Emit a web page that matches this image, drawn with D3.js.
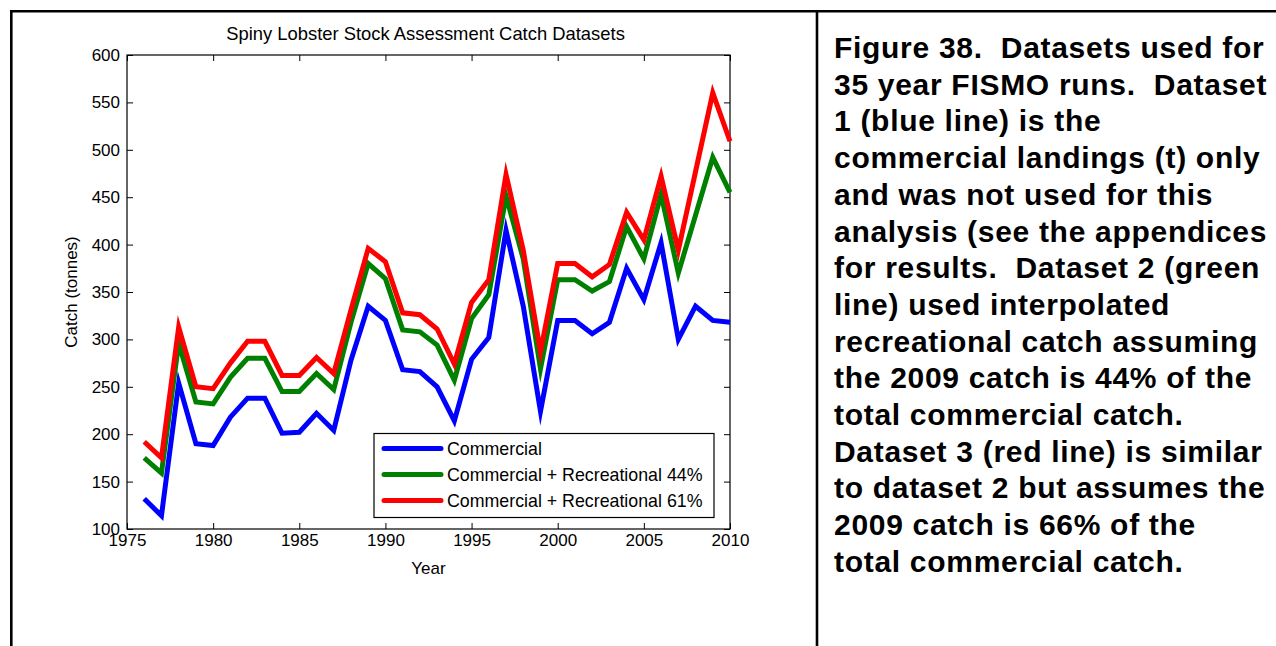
<!DOCTYPE html>
<html>
<head>
<meta charset="utf-8">
<script src="https://cdn.jsdelivr.net/npm/d3@7"></script>
<style>
  html, body { margin: 0; padding: 0; background: #fff; }
  svg { display: block; font-family: "Liberation Sans", Arial, sans-serif; }
  text { white-space: pre; }
</style>
</head>
<body>
<svg id="fig" width="1276" height="646"></svg>
<script>
// Catch series (tonnes), 1976-2010
const years = d3.range(1976, 2011);
const commercial = [132, 114, 254, 190, 188, 218, 238, 238, 201, 202, 222, 204, 278, 335, 320, 268, 266, 250, 214, 279, 302, 415, 335, 224, 320, 320, 306, 318, 375, 342, 402, 300, 335, 320, 318];
const recreational44 = [175, 159, 296, 234, 232, 260, 280, 280, 245, 245, 264, 247, 318, 380, 364, 310, 308, 294, 257, 322, 347, 451, 385, 269, 363, 363, 351, 361, 419, 385, 453, 370, 431, 492, 455];
const recreational61 = [192, 175, 313, 250, 248, 275, 298, 298, 262, 262, 281, 264, 331, 396, 382, 328, 326, 311, 274, 339, 363, 474, 394, 287, 380, 380, 366, 379, 434, 405, 472, 394, 477, 560, 509];

const seriesNames = ["Commercial", "Commercial + Recreational 44%", "Commercial + Recreational 61%"];
const seriesColors = ["#0000ff", "#008000", "#ff0000"];
const xTicks = [1975, 1980, 1985, 1990, 1995, 2000, 2005, 2010];
const yTicks = [100, 150, 200, 250, 300, 350, 400, 450, 500, 550, 600];

const captionLines = [
  "Figure 38.  Datasets used for",
  "35 year FISMO runs.  Dataset",
  "1 (blue line) is the",
  "commercial landings (t) only",
  "and was not used for this",
  "analysis (see the appendices",
  "for results.  Dataset 2 (green",
  "line) used interpolated",
  "recreational catch assuming",
  "the 2009 catch is 44% of the",
  "total commercial catch.",
  "Dataset 3 (red line) is similar",
  "to dataset 2 but assumes the",
  "2009 catch is 66% of the",
  "total commercial catch."
];

const svg = d3.select("#fig");

// page frame: top rule, left rule and the column divider
const frame = svg.append("g").attr("stroke", "#000").attr("stroke-width", 2.6);
frame.append("line").attr("x1", 10).attr("x2", 1276).attr("y1", 11.3).attr("y2", 11.3);
frame.append("line").attr("x1", 11.3).attr("x2", 11.3).attr("y1", 10).attr("y2", 646);
frame.append("line").attr("x1", 817).attr("x2", 817).attr("y1", 10).attr("y2", 646);

// plot area
const L = 127, R = 730, T = 55, B = 529;
const x = d3.scaleLinear().domain([1975, 2010]).range([L, R]);
const y = d3.scaleLinear().domain([100, 600]).range([B, T]);

const fs = 17;
const axisG = svg.append("g");

const axBottom = axisG.append("g").attr("transform", `translate(0,${B})`)
  .call(d3.axisBottom(x).tickValues(xTicks).tickFormat(d3.format("d")).tickSizeInner(-6).tickSizeOuter(0).tickPadding(5));
const axLeft = axisG.append("g").attr("transform", `translate(${L},0)`)
  .call(d3.axisLeft(y).tickValues(yTicks).tickSizeInner(-6).tickSizeOuter(0).tickPadding(7));
const axTop = axisG.append("g").attr("transform", `translate(0,${T})`)
  .call(d3.axisTop(x).tickValues(xTicks).tickFormat("").tickSizeInner(-6).tickSizeOuter(0));
const axRight = axisG.append("g").attr("transform", `translate(${R},0)`)
  .call(d3.axisRight(y).tickValues(yTicks).tickFormat("").tickSizeInner(-6).tickSizeOuter(0));

[axBottom, axLeft, axTop, axRight].forEach(g => {
  g.select(".domain").remove();
  g.selectAll(".tick line").attr("stroke", "#000").attr("stroke-width", 1);
  g.selectAll(".tick text").attr("font-size", fs).attr("font-family", "Liberation Sans, Arial, sans-serif").attr("fill", "#000");
});

// box round the axes
svg.append("rect").attr("x", L).attr("y", T).attr("width", R - L).attr("height", B - T)
  .attr("fill", "none").attr("stroke", "#000").attr("stroke-width", 1.2);

// lines
const line = d3.line().x((d, i) => x(years[i])).y(d => y(d));
const allSeries = [commercial, recreational44, recreational61];
svg.append("g").selectAll("path").data(allSeries).join("path")
  .attr("d", line)
  .attr("fill", "none")
  .attr("stroke", (d, i) => seriesColors[i])
  .attr("stroke-width", 5)
  .attr("stroke-linejoin", "miter")
  .attr("stroke-miterlimit", 10);

// titles
svg.append("text").attr("x", (L + R) / 2 - 3).attr("y", 40).attr("text-anchor", "middle")
  .attr("font-size", 18.4).text("Spiny Lobster Stock Assessment Catch Datasets");
svg.append("text").attr("x", (L + R) / 2).attr("y", 574).attr("text-anchor", "middle")
  .attr("font-size", fs).text("Year");
svg.append("text").attr("transform", `translate(77,${(T + B) / 2}) rotate(-90)`).attr("text-anchor", "middle")
  .attr("font-size", fs).text("Catch (tonnes)");

// legend
const lg = svg.append("g");
lg.append("rect").attr("x", 374).attr("y", 433.5).attr("width", 340).attr("height", 84)
  .attr("fill", "#fff").attr("stroke", "#000").attr("stroke-width", 1.2);
const rowsY = [448.5, 474.5, 500.5];
seriesNames.forEach((name, i) => {
  lg.append("line").attr("x1", 384).attr("x2", 441).attr("y1", rowsY[i]).attr("y2", rowsY[i])
    .attr("stroke", seriesColors[i]).attr("stroke-width", 5).attr("stroke-linecap", "round");
  lg.append("text").attr("x", 447).attr("y", rowsY[i]).attr("dy", "0.36em")
    .attr("font-size", 17.8).text(name);
});

// caption
const cap = svg.append("text").attr("font-size", 30).attr("font-weight", "bold")
  .attr("letter-spacing", 0.7).attr("fill", "#000");
captionLines.forEach((s, i) => {
  cap.append("tspan").attr("x", 834).attr("y", 58 + i * 36.7).text(s);
});
</script>
</body>
</html>
